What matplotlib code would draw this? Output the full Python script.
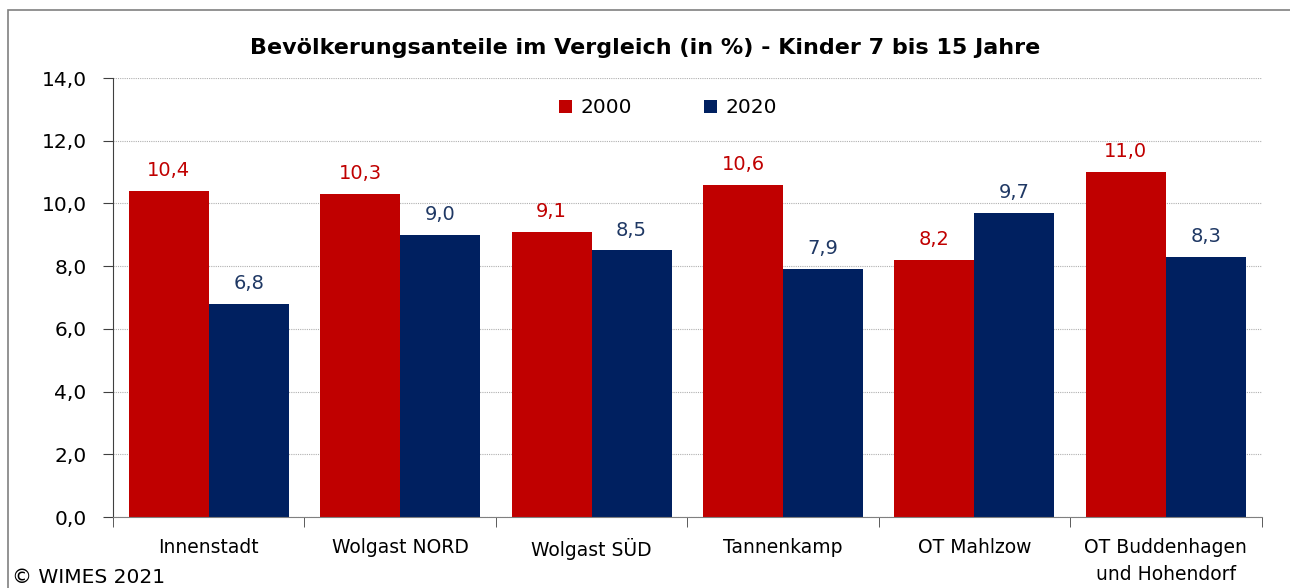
import matplotlib.pyplot as plt
import numpy as np
from matplotlib.patches import Rectangle

# Daten
kategorien = ['Innenstadt', 'Wolgast NORD', 'Wolgast SÜD', 'Tannenkamp',
              'OT Mahlzow', 'OT Buddenhagen\nund Hohendorf']
werte_2000 = [10.4, 10.3, 9.1, 10.6, 8.2, 11.0]
werte_2020 = [6.8, 9.0, 8.5, 7.9, 9.7, 8.3]
y_ticks = [0, 2, 4, 6, 8, 10, 12, 14]

rot = '#C00000'
blau = '#002060'

plt.rcParams['font.family'] = ['DejaVu Sans']

fig = plt.figure(figsize=(12.9, 5.88), dpi=100)
ax = fig.add_axes([0.0876, 0.1207, 0.8904, 0.7466])

x = np.arange(len(kategorien))
breite = 0.418
b1 = ax.bar(x - breite / 2, werte_2000, breite, color=rot, label='2000', zorder=2)
b2 = ax.bar(x + breite / 2, werte_2020, breite, color=blau, label='2020', zorder=2)

def fmt(v):
    return f'{v:.1f}'.replace('.', ',')

for bars, farbe in ((b1, rot), (b2, '#1F3864')):
    for b in bars:
        h = b.get_height()
        ax.text(b.get_x() + b.get_width() / 2, h + 0.35, fmt(h),
                ha='center', va='bottom', fontsize=14, color=farbe)

ax.set_xlim(-0.5, len(kategorien) - 0.5)
ax.set_ylim(0, 14)
ax.set_yticks(y_ticks)
ax.set_yticklabels([fmt(v) for v in y_ticks], fontsize=14.5)
ax.yaxis.grid(True, linestyle=(0, (1, 1)), color='#b0b0b0', linewidth=0.8, zorder=0)

ax.set_xticks(x)
ax.set_xticklabels(kategorien, fontsize=13.5, linespacing=1.55)
ax.tick_params(axis='x', length=0, pad=15)
ax.set_xticks(np.arange(-0.5, len(kategorien)), minor=True)
ax.tick_params(axis='x', which='minor', length=7, direction='out', color='#404040')
ax.tick_params(axis='y', length=7, direction='out', color='#404040', pad=12)

for s in ('top', 'right'):
    ax.spines[s].set_visible(False)
ax.spines['left'].set_color('#404040')
ax.spines['bottom'].set_color('#808080')

ax.legend(loc='upper center', bbox_to_anchor=(0.483, 0.995), ncol=2, frameon=False,
          fontsize=14.5, handlelength=0.65, handleheight=0.65, columnspacing=3.6,
          handletextpad=0.4)

fig.text(0.5, 0.918, 'Bevölkerungsanteile im Vergleich (in %) - Kinder 7 bis 15 Jahre',
         ha='center', va='center', fontsize=16, fontweight='bold')
fig.text(0.009, 0.018, '© WIMES 2021', ha='left', va='center', fontsize=14.5)

# Rahmen
fig.patches.append(Rectangle((8 / 1290, -0.1), 2.0, 1.1 - 10 / 588,
                             transform=fig.transFigure, fill=False,
                             edgecolor='#808080', linewidth=1.2))

fig.savefig('out.png', dpi=100)
